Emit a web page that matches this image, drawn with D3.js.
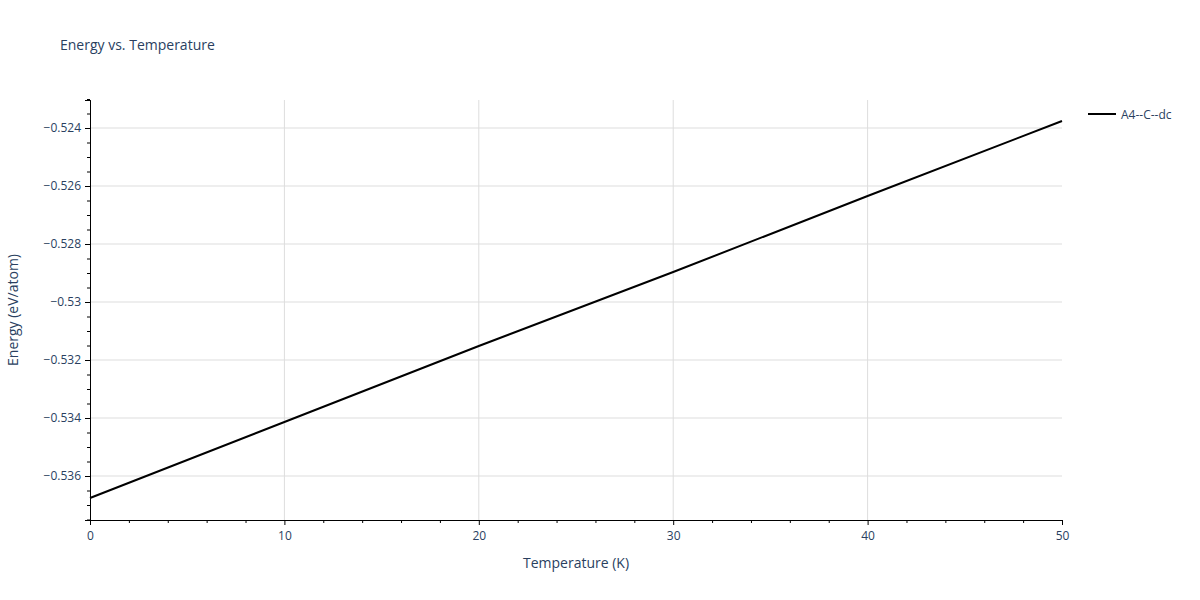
<!DOCTYPE html>
<html><head><meta charset="utf-8">
<script src="https://cdn.jsdelivr.net/npm/d3@7"></script>
<style>body{margin:0;background:#fff}text{font-family:"Open Sans",Arial,sans-serif}</style>
</head><body><svg id="c" width="1200" height="600"></svg>
<script>
const temps = [0, 10, 20, 30, 40, 50];
const energy = [-0.536759, -0.534138, -0.531517, -0.528966, -0.526345, -0.523759];
const seriesName = "A4--C--dc";
const yTicks = [-0.536, -0.534, -0.532, -0.53, -0.528, -0.526, -0.524];
const xTicks = [0, 10, 20, 30, 40, 50];

const svg = d3.select("#c");
const L=90,R=1062,T=100,B=520;
const x = d3.scaleLinear().domain([0,50]).range([L,R]);
const y = d3.scaleLinear().domain([-0.537517,-0.523034]).range([B,T]);
const fmt = v => String(v).replace("-", "\u2212");
const col = "#2a3f5f";

// grid
svg.append("g").selectAll("line").data(xTicks.slice(1,-1)).join("line")
 .attr("x1",d=>x(d)).attr("x2",d=>x(d)).attr("y1",T).attr("y2",B).attr("stroke","#ddd");
svg.append("g").selectAll("line").data(yTicks).join("line")
 .attr("x1",L).attr("x2",R).attr("y1",d=>y(d)).attr("y2",d=>y(d)).attr("stroke","#ddd");

// axes
const xa = svg.append("g").attr("transform",`translate(0,${B})`)
 .call(d3.axisBottom(x).tickValues(xTicks).tickFormat(fmt).tickSize(5).tickPadding(6));
const xm = svg.append("g").attr("transform",`translate(0,${B})`)
 .call(d3.axisBottom(x).tickValues(d3.range(0,51,2).filter(v=>v%10)).tickFormat("").tickSize(3));
const ya = svg.append("g").attr("transform",`translate(${L},0)`)
 .call(d3.axisLeft(y).tickValues(yTicks).tickFormat(fmt).tickSize(5).tickPadding(4));
const minorY=[]; for(let v=-0.5375;v<=-0.5230;v+=0.0005){const r=Math.round(v*10000)/10000; if(Math.abs(r*500-Math.round(r*500))>1e-6) minorY.push(r);}
const ym = svg.append("g").attr("transform",`translate(${L},0)`)
 .call(d3.axisLeft(y).tickValues(minorY).tickFormat("").tickSize(3));
[xa,xm,ya,ym].forEach(g=>{g.selectAll("path,line").attr("stroke","#000");g.selectAll("text").attr("fill",col).style("font-size","12px").style("font-family","'Open Sans',sans-serif");});

// line
svg.append("path").datum(temps.map((t,i)=>[t,energy[i]]))
 .attr("d",d3.line().x(d=>x(d[0])).y(d=>y(d[1])))
 .attr("fill","none").attr("stroke","#000").attr("stroke-width",2);

// labels
svg.append("text").attr("x",60).attr("y",50).attr("fill",col).style("font-size","14px").text("Energy vs. Temperature");
svg.append("text").attr("x",(L+R)/2).attr("y",568).attr("text-anchor","middle").attr("fill",col).style("font-size","14px").text("Temperature (K)");
svg.append("text").attr("transform",`translate(18,${(T+B)/2}) rotate(-90)`).attr("text-anchor","middle").attr("fill",col).style("font-size","14px").text("Energy (eV/atom)");

// legend
svg.append("line").attr("x1",1088).attr("x2",1116).attr("y1",114).attr("y2",114).attr("stroke","#000").attr("stroke-width",2);
svg.append("text").attr("x",1121).attr("y",118.5).attr("fill",col).style("font-size","12px").text(seriesName);
</script></body></html>
